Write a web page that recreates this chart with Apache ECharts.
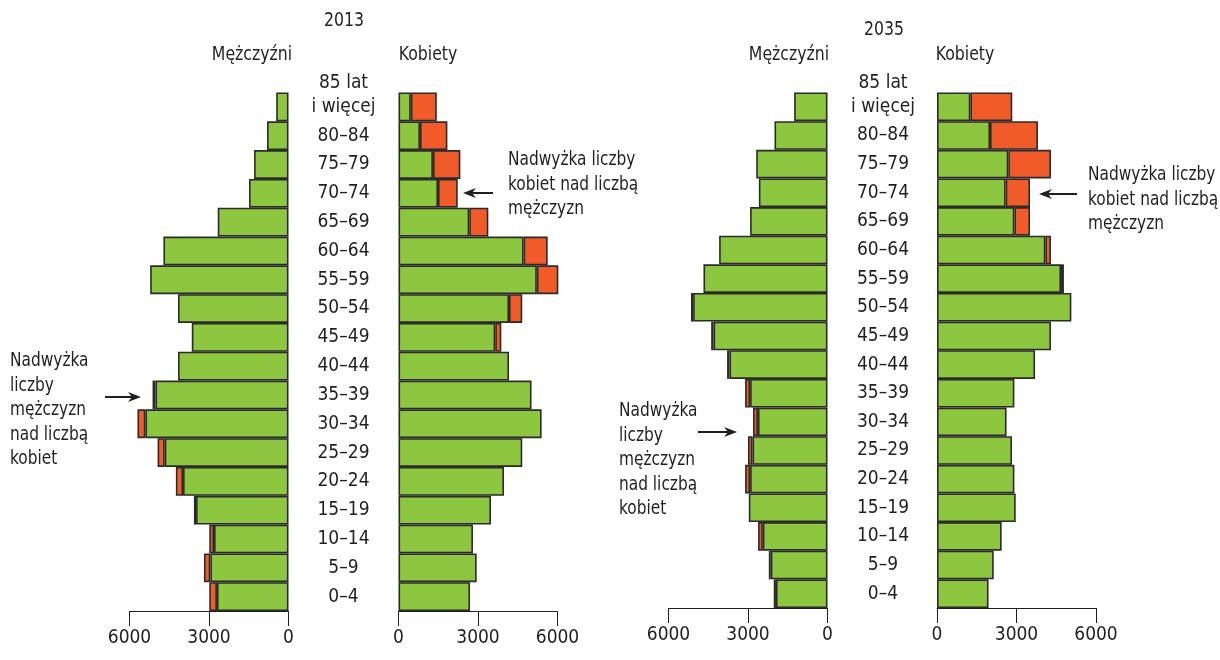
<!DOCTYPE html>
<html>
<head>
<meta charset="utf-8">
<title>Piramida wieku 2013 i 2035</title>
<script src="https://cdn.jsdelivr.net/npm/echarts@6/dist/echarts.min.js"></script>
<style>
    html, body { margin: 0; padding: 0; background: #fff; }
    #chart { width: 1220px; height: 660px; }
</style>
</head>
<body>
<div id="chart"></div>
<script>
    // grupy wieku od najstarszej (góra) do najmłodszej (dół)
    const ageGroups = ['85 lat\ni więcej', '80–84', '75–79', '70–74', '65–69', '60–64', '55–59', '50–54',
        '45–49', '40–44', '35–39', '30–34', '25–29', '20–24', '15–19', '10–14', '5–9', '0–4'];

    // 2013, w tys.
    const men2013 = [465, 810, 1300, 1490, 2670, 4720, 5220, 4170, 3650, 4170, 5130, 5700, 4940, 4250, 3570, 2990, 3190, 2990];
    const women2013 = [1445, 1845, 2335, 2235, 3390, 5630, 6040, 4670, 3880, 4170, 5020, 5400, 4670, 3980, 3490, 2810, 2950, 2700];

    // 2035, w tys.
    const men2035 = [1260, 2000, 2690, 2590, 2920, 4090, 4680, 5150, 4390, 3790, 3110, 2810, 3000, 3110, 2970, 2620, 2215, 2030];
    const women2035 = [2840, 3810, 4300, 3510, 3510, 4300, 4790, 5070, 4300, 3700, 2920, 2625, 2830, 2920, 2970, 2440, 2140, 1945];

    const axisMax = 6000;
    const axisStep = 3000;

    const FONT = '"Liberation Sans Narrow", "Arial Narrow", "DejaVu Sans Condensed", "Roboto Condensed", sans-serif';
    const INK = '#231f20';
    const GREEN = '#8dc63f';
    const ORANGE = '#f15a29';
    const EDGE = '#2b2b2b';

    function drawPyramids(id) {
        let chart = echarts.init(document.getElementById(id));

        // grid 0: mężczyźni 2013, 1: kobiety 2013, 2: mężczyźni 2035, 3: kobiety 2035
        let grids = [
            {left: 129.5, right: 931.5, top: 92.5, bottom: 49},
            {left: 398.5, right: 662.5, top: 92.5, bottom: 49},
            {left: 668.5, right: 392.5, top: 92.5, bottom: 52},
            {left: 937, right: 124, top: 92.5, bottom: 52}
        ];

        let xAxes = grids.map(function (g, i) {
            return {
                type: 'value',
                gridIndex: i,
                min: 0,
                max: axisMax,
                interval: axisStep,
                inverse: i % 2 === 0,
                splitLine: {show: false},
                axisLine: {show: true, lineStyle: {color: INK, width: 1}},
                axisTick: {show: true, length: 15, lineStyle: {color: INK, width: 1}},
                axisLabel: {
                    show: true, showMinLabel: true, showMaxLabel: true,
                    margin: 18, fontSize: 19, color: INK, fontFamily: FONT,
                    formatter: function (v) { return String(v); }
                }
            };
        });

        let yAxes = grids.map(function (g, i) {
            let isWomen = i % 2 === 1;
            return {
                type: 'category',
                gridIndex: i,
                data: ageGroups,
                inverse: true,
                axisLine: {show: false},
                axisTick: {show: false},
                axisLabel: {
                    show: isWomen,
                    interval: 0,
                    hideOverlap: false,
                    align: 'center',
                    margin: i === 1 ? 55 : 54,
                    fontSize: 19,
                    color: INK,
                    fontFamily: FONT,
                    formatter: function (v) {
                        if (v.indexOf('\n') >= 0) {
                            let parts = v.split('\n');
                            return '{a|' + parts[0] + '}\n{a|' + parts[1] + '}\n{a| }';
                        }
                        return v;
                    },
                    rich: {a: {fontSize: 19, lineHeight: 24, color: INK, fontFamily: FONT}}
                }
            };
        });

        function bar(name, values, idx, color) {
            return {
                name: name,
                type: 'bar',
                xAxisIndex: idx,
                yAxisIndex: idx,
                stack: 's' + idx,
                barCategoryGap: 0,
                silent: true,
                itemStyle: {color: color, borderColor: EDGE, borderWidth: 1.6},
                data: values
            };
        }

        let seriesArr = [];
        [[men2013, women2013, 0], [men2035, women2035, 2]].forEach(function (p) {
            let men = p[0], women = p[1], g = p[2];
            let common = men.map(function (m, k) { return Math.min(m, women[k]); });
            let menExtra = men.map(function (m, k) { return m > women[k] ? m - women[k] : '-'; });
            let womenExtra = women.map(function (w, k) { return w > men[k] ? w - men[k] : '-'; });
            seriesArr.push(bar('Mężczyźni', common, g, GREEN));
            seriesArr.push(bar('Nadwyżka mężczyzn', menExtra, g, ORANGE));
            seriesArr.push(bar('Kobiety', common, g + 1, GREEN));
            seriesArr.push(bar('Nadwyżka kobiet', womenExtra, g + 1, ORANGE));
        });

        // tekst nieco zwężony, jak w oryginale
        function label(text, x, y) {
            return {
                type: 'text', x: x, y: y, scaleX: 0.92, silent: true,
                style: {
                    text: text, fill: INK, font: '19px ' + FONT,
                    align: 'center', verticalAlign: 'middle'
                }
            };
        }

        function note(text, x, y) {
            return {
                type: 'text', x: x, y: y, scaleX: 0.9, silent: true,
                style: {
                    text: text, fill: INK, font: '19px ' + FONT, lineHeight: 24.5,
                    align: 'left', verticalAlign: 'top'
                }
            };
        }

        // strzałka od (x1,y) do (x2,y)
        function arrow(x1, x2, y) {
            let d = x2 > x1 ? 1 : -1;
            return {
                type: 'group', silent: true,
                children: [
                    {type: 'line', shape: {x1: x1, y1: y, x2: x2 - d * 6, y2: y}, style: {stroke: INK, lineWidth: 2}},
                    {type: 'polygon', shape: {points: [[x2, y], [x2 - d * 13, y - 5], [x2 - d * 9, y], [x2 - d * 13, y + 5]]},
                        style: {fill: INK}}
                ]
            };
        }

        chart.setOption({
            animation: false,
            textStyle: {fontFamily: FONT},
            grid: grids,
            xAxis: xAxes,
            yAxis: yAxes,
            series: seriesArr,
            graphic: [
                label('2013', 344, 21),
                label('Mężczyźni', 252, 55),
                label('Kobiety', 428, 55),
                label('2035', 884, 30),
                label('Mężczyźni', 789, 55),
                label('Kobiety', 965, 55),
                note('Nadwyżka\nliczby\nmężczyzn\nnad liczbą\nkobiet', 10, 349),
                note('Nadwyżka liczby\nkobiet nad liczbą\nmężczyzn', 508, 148),
                note('Nadwyżka\nliczby\nmężczyzn\nnad liczbą\nkobiet', 619, 399),
                note('Nadwyżka liczby\nkobiet nad liczbą\nmężczyzn', 1088, 163),
                arrow(105, 141, 397),
                arrow(493, 463, 193),
                arrow(698, 737, 432),
                arrow(1077, 1039, 194)
            ]
        });
    }

    drawPyramids('chart');
</script>
</body>
</html>
